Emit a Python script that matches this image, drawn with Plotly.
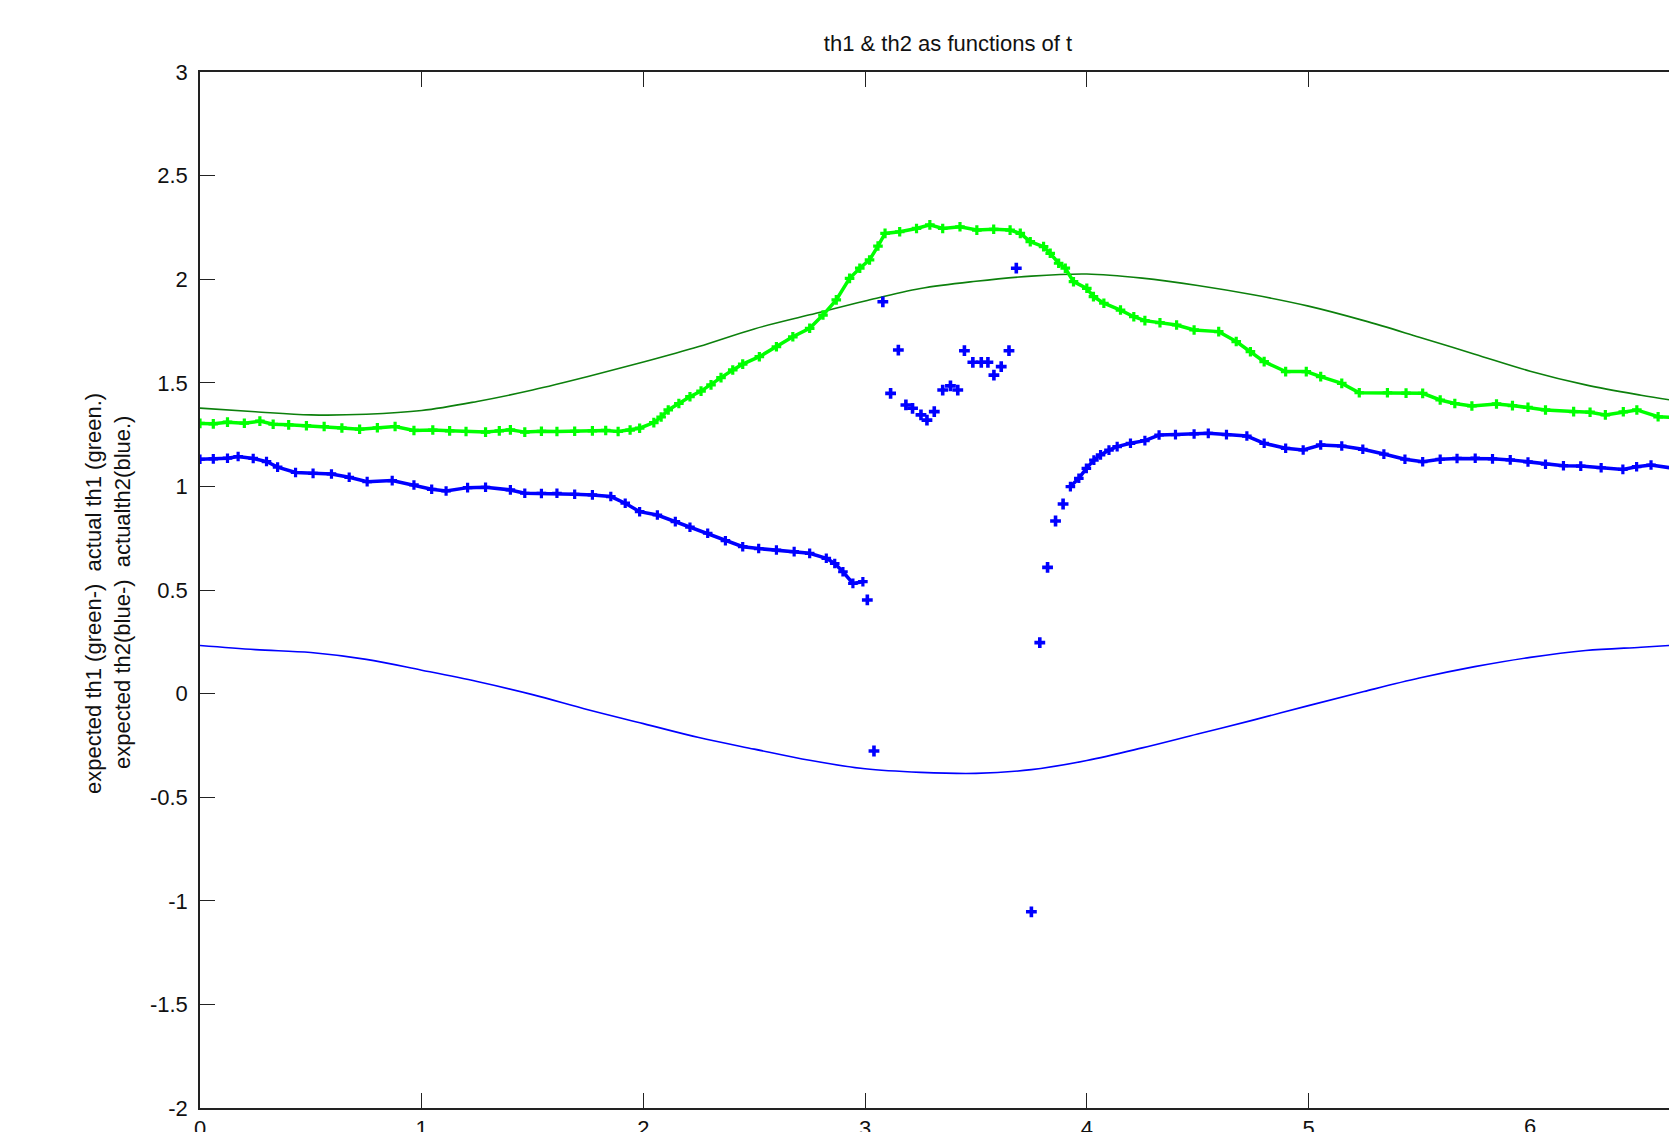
import plotly.graph_objects as go

# ---------------- data ----------------
expected_x = [0.0, 0.25, 0.5, 0.75, 1.0, 1.25, 1.5, 1.75, 2.0, 2.25, 2.5, 2.75, 3.0, 3.25,
              3.5, 3.75, 4.0, 4.25, 4.5, 4.75, 5.0, 5.25, 5.5, 5.75, 6.0, 6.25, 6.5, 6.65]
expected_th1 = [1.378, 1.36, 1.345, 1.348, 1.366, 1.41, 1.465, 1.53, 1.60, 1.675, 1.76, 1.828,
                1.895, 1.955, 1.99, 2.015, 2.025, 2.005, 1.97, 1.925, 1.87, 1.80, 1.72,
                1.638, 1.556, 1.49, 1.44, 1.414]
expected_th2 = [0.232, 0.212, 0.198, 0.165, 0.113, 0.058, -0.005, -0.078, -0.145, -0.212,
                -0.268, -0.322, -0.363, -0.38, -0.385, -0.367, -0.323, -0.262, -0.195, -0.128,
                -0.058, 0.01, 0.075, 0.13, 0.175, 0.208, 0.224, 0.234]

actual_th1_x = [0.0, 0.06, 0.124, 0.2, 0.27, 0.33, 0.40, 0.48, 0.56, 0.64, 0.72, 0.80, 0.88,
                0.965, 1.05, 1.126, 1.2, 1.288, 1.35, 1.40, 1.465, 1.54, 1.61, 1.69, 1.77, 1.83,
                1.886, 1.94, 1.983, 2.047, 2.08, 2.112, 2.16, 2.21, 2.26, 2.305, 2.35, 2.403,
                2.448, 2.523, 2.60, 2.674, 2.75, 2.81, 2.87, 2.93, 2.976, 3.02, 3.058, 3.09,
                3.156, 3.232, 3.292, 3.35, 3.428, 3.504, 3.58, 3.654, 3.70, 3.745, 3.805, 3.835,
                3.873, 3.903, 3.94, 4.0, 4.03, 4.077, 4.152, 4.212, 4.262, 4.33, 4.405, 4.484,
                4.595, 4.674, 4.738, 4.8, 4.897, 4.99, 5.055, 5.15, 5.229, 5.356, 5.44, 5.515,
                5.594, 5.66, 5.737, 5.848, 5.92, 5.99, 6.069, 6.196, 6.27, 6.339, 6.42, 6.481,
                6.577, 6.65]
actual_th1 = [1.304, 1.302, 1.31, 1.305, 1.315, 1.30, 1.297, 1.293, 1.289, 1.282, 1.276, 1.283,
              1.289, 1.27, 1.272, 1.268, 1.265, 1.262, 1.268, 1.273, 1.262, 1.266, 1.265, 1.266,
              1.268, 1.27, 1.265, 1.272, 1.281, 1.308, 1.335, 1.369, 1.40, 1.433, 1.46, 1.49,
              1.525, 1.562, 1.59, 1.626, 1.674, 1.722, 1.763, 1.827, 1.90, 2.004, 2.053, 2.093,
              2.16, 2.221, 2.229, 2.245, 2.262, 2.245, 2.253, 2.237, 2.241, 2.237, 2.221, 2.181,
              2.157, 2.125, 2.077, 2.053, 1.988, 1.956, 1.916, 1.884, 1.851, 1.819, 1.80, 1.79,
              1.779, 1.755, 1.747, 1.699, 1.65, 1.602, 1.554, 1.554, 1.53, 1.497, 1.452, 1.452,
              1.45, 1.449, 1.417, 1.40, 1.388, 1.398, 1.39, 1.382, 1.369, 1.361, 1.358, 1.345,
              1.36, 1.369, 1.336, 1.333]

# actual th2: continuous part before the jump
actual_th2_left_x = [0.0, 0.06, 0.124, 0.172, 0.24, 0.30, 0.35, 0.431, 0.51, 0.593, 0.673,
                     0.754, 0.867, 0.965, 1.045, 1.11, 1.207, 1.288, 1.40, 1.465, 1.54, 1.61,
                     1.69, 1.77, 1.853, 1.918, 1.983, 2.063, 2.144, 2.21, 2.29, 2.37, 2.448,
                     2.52, 2.60, 2.68, 2.75, 2.825, 2.863, 2.90, 2.945, 2.99]
actual_th2_left = [1.131, 1.133, 1.136, 1.144, 1.135, 1.12, 1.093, 1.067, 1.063, 1.06, 1.044,
                   1.023, 1.028, 1.007, 0.986, 0.978, 0.994, 0.996, 0.983, 0.967, 0.966, 0.967,
                   0.962, 0.959, 0.951, 0.919, 0.878, 0.862, 0.83, 0.803, 0.774, 0.738, 0.709,
                   0.70, 0.693, 0.685, 0.677, 0.653, 0.628, 0.588, 0.532, 0.54]
# actual th2: scattered samples around the jump
actual_th2_mid_x = [3.01, 3.04, 3.08, 3.115, 3.15, 3.184, 3.214, 3.252, 3.279, 3.312, 3.35,
                    3.385, 3.418, 3.448, 3.486, 3.524, 3.554, 3.581, 3.614, 3.649, 3.682,
                    3.75, 3.788, 3.823, 3.859, 3.893]
actual_th2_mid = [0.452, -0.277, 1.891, 1.449, 1.658, 1.393, 1.377, 1.345, 1.32, 1.361, 1.465,
                  1.485, 1.465, 1.655, 1.599, 1.599, 1.599, 1.537, 1.578, 1.655, 2.053,
                  -1.053, 0.246, 0.609, 0.833, 0.915]
# actual th2: continuous part after the jump
actual_th2_right_x = [3.926, 3.964, 3.998, 4.032, 4.062, 4.10, 4.137, 4.197, 4.262, 4.326,
                      4.40, 4.484, 4.548, 4.63, 4.722, 4.8, 4.897, 4.976, 5.055, 5.15, 5.245,
                      5.34, 5.435, 5.515, 5.594, 5.67, 5.752, 5.83, 5.91, 5.99, 6.069, 6.15,
                      6.228, 6.32, 6.418, 6.48, 6.545, 6.65]
actual_th2_right = [0.999, 1.039, 1.087, 1.127, 1.152, 1.175, 1.192, 1.208, 1.221, 1.248,
                    1.25, 1.253, 1.256, 1.25, 1.243, 1.208, 1.184, 1.176, 1.20, 1.195, 1.179,
                    1.156, 1.131, 1.119, 1.131, 1.135, 1.136, 1.133, 1.128, 1.118, 1.107, 1.10,
                    1.098, 1.09, 1.082, 1.095, 1.103, 1.087]

y_ticks = [-2, -1.5, -1, -0.5, 0, 0.5, 1, 1.5, 2, 2.5, 3]
y_tick_text = ["-2", "-1.5", "-1", "-0.5", "0", "0.5", "1", "1.5", "2", "2.5", "3"]
x_ticks = [0, 1, 2, 3, 4, 5]          # tick marks visible in the reference
x_tick_text = ["0", "1", "2", "3", "4", "5"]
x_extra_label = 6                      # label shown without a tick mark

TITLE = "th1 & th2 as functions of t"
YLABEL_1 = "expected th1 (green-)  actual th1 (green.)"
YLABEL_2 = "expected th2(blue-)  actualth2(blue.)"

# ---------------- styles ----------------
DARK_GREEN = "#0c800c"
BRIGHT_GREEN = "#00ff00"
BLUE = "#0000ff"
FONT = "Liberation Sans, Arial, Helvetica, sans-serif"
TXT = "#111111"

W, H = 1669, 1132
L, T, B = 200, 72, 24
plot_w = W - L
px_per_unit = 221.7
x_max = plot_w / px_per_unit

fig = go.Figure()

fig.add_trace(go.Scatter(x=expected_x, y=expected_th1, mode="lines",
                         line=dict(color=DARK_GREEN, width=1.6, shape="spline"),
                         showlegend=False))
fig.add_trace(go.Scatter(x=expected_x, y=expected_th2, mode="lines",
                         line=dict(color=BLUE, width=1.6, shape="spline"),
                         showlegend=False))

fig.add_trace(go.Scatter(x=actual_th1_x, y=actual_th1, mode="lines+markers",
                         line=dict(color=BRIGHT_GREEN, width=3.5),
                         marker=dict(symbol="cross", size=8, color=BRIGHT_GREEN),
                         showlegend=False))

fig.add_trace(go.Scatter(x=actual_th2_left_x, y=actual_th2_left, mode="lines+markers",
                         line=dict(color=BLUE, width=3.5),
                         marker=dict(symbol="cross", size=8, color=BLUE),
                         showlegend=False))
fig.add_trace(go.Scatter(x=actual_th2_mid_x, y=actual_th2_mid, mode="markers",
                         marker=dict(symbol="cross", size=9, color=BLUE),
                         showlegend=False))
fig.add_trace(go.Scatter(x=actual_th2_right_x, y=actual_th2_right, mode="lines+markers",
                         line=dict(color=BLUE, width=3.5),
                         marker=dict(symbol="cross", size=8, color=BLUE),
                         showlegend=False))

axis_common = dict(showgrid=False, zeroline=False, showline=True, linecolor="#222222",
                   linewidth=1.6, ticks="inside", ticklen=15, tickwidth=1.4,
                   tickcolor="#222222", automargin=False,
                   tickfont=dict(family=FONT, size=22, color=TXT))

fig.update_xaxes(range=[0, x_max], tickvals=x_ticks, ticktext=x_tick_text,
                 mirror="ticks", ticklabelstandoff=0, **axis_common)
fig.update_yaxes(range=[-2, 3], tickvals=y_ticks, ticktext=y_tick_text,
                 mirror=False, ticklabelstandoff=6, **axis_common)

fig.add_annotation(text=str(x_extra_label), x=x_extra_label, xref="x", y=0, yref="paper",
                   yanchor="top", xanchor="center", showarrow=False, yshift=-4,
                   font=dict(family=FONT, size=22, color=TXT))

plot_h = H - T - B
y_mid_paper = (H - B - 593) / plot_h
fig.add_annotation(text=YLABEL_1, xref="paper", yref="paper",
                   x=(93 - L) / plot_w, y=y_mid_paper, textangle=-90,
                   showarrow=False, xanchor="center", yanchor="middle",
                   font=dict(family=FONT, size=22, color=TXT))
fig.add_annotation(text=YLABEL_2, xref="paper", yref="paper",
                   x=(122 - L) / plot_w, y=y_mid_paper, textangle=-90,
                   showarrow=False, xanchor="center", yanchor="middle",
                   font=dict(family=FONT, size=22, color=TXT))

fig.update_layout(
    width=W, height=H,
    margin=dict(l=L, r=0, t=T, b=B, pad=0),
    paper_bgcolor="white", plot_bgcolor="white",
    title=dict(text=TITLE, xref="container", yref="container",
               x=948 / W, y=1 - 43 / H, xanchor="center", yanchor="middle",
               font=dict(family=FONT, size=22, color=TXT)),
    showlegend=False,
)

fig.write_html("out.html", config={"displayModeBar": False})
